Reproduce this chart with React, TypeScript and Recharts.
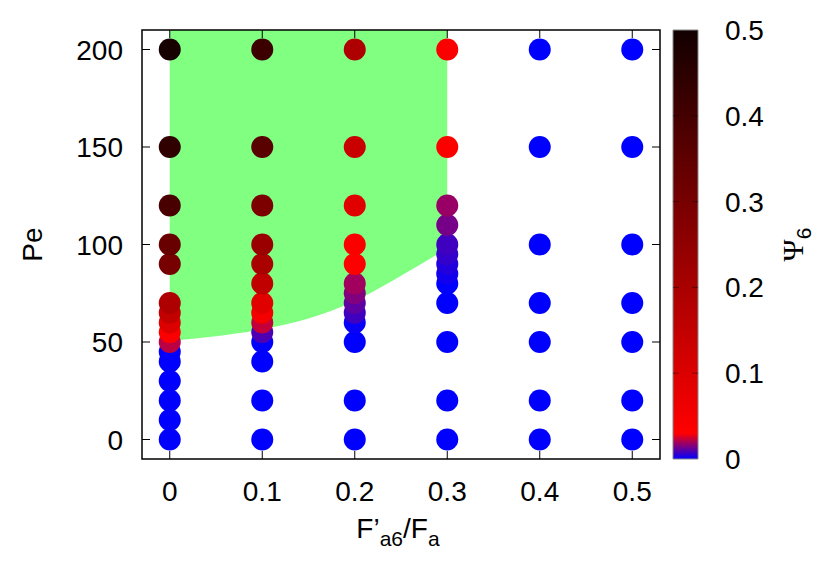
import React from "react";
import { ComposedChart, Area, Scatter, XAxis, YAxis, ReferenceArea } from "recharts";

// F'a6/Fa columns and the (Pe, Psi6) values measured in each one
const fRatio = [0, 0.1, 0.2, 0.3, 0.4, 0.5];

const pe0 = [0, 10, 20, 30, 40, 45, 50, 55, 60, 65, 70, 90, 100, 120, 150, 200];
const psi0 = [0, 0, 0, 0, 0, 0, 0.022, 0.04, 0.1, 0.15, 0.19, 0.3, 0.33, 0.39, 0.44, 0.49];

const pe1 = [0, 20, 40, 50, 55, 60, 65, 70, 80, 90, 100, 120, 150, 200];
const psi1 = [0, 0, 0, 0, 0.009, 0.023, 0.05, 0.09, 0.155, 0.2, 0.23, 0.29, 0.36, 0.415];

const pe2 = [0, 20, 50, 60, 65, 70, 75, 80, 90, 100, 120, 150, 200];
const psi2 = [0, 0, 0, 0.001, 0.0075, 0.011, 0.015, 0.019, 0.032, 0.035, 0.09, 0.14, 0.19];

const pe3 = [0, 20, 50, 70, 80, 85, 90, 95, 100, 110, 120, 150, 200];
const psi3 = [0, 0, 0, 0, 0, 0.002, 0.004, 0.006, 0.0075, 0.014, 0.018, 0.035, 0.04];

const pe4 = [0, 20, 50, 70, 100, 150, 200];
const psi4 = [0, 0, 0, 0, 0, 0, 0];

const pe5 = [0, 20, 50, 70, 100, 150, 200];
const psi5 = [0, 0, 0, 0, 0, 0, 0];

// lower edge of the shaded (green) region
const boundaryF = [0, 0.05, 0.1, 0.15, 0.2, 0.25, 0.3];
const boundaryPe = [50.5, 53, 56.5, 62, 71, 84, 98];
const peTop = 210;

const xTicks = [0, 0.1, 0.2, 0.3, 0.4, 0.5];
const yTicks = [0, 50, 100, 150, 200];
const cbTicks = [0, 0.1, 0.2, 0.3, 0.4, 0.5];
const cbRange = [0, 0.5];

const FONT = "'Liberation Sans', Arial, Helvetica, sans-serif";
const FS = 28;
const SUB = 21;

// plot frame (main chart)
const PL = 142;
const PR = 660;
const PT = 30;
const PB = 459;

// blue -> red over the first 0.03, then red -> black up to 0.5
function psiColor(t: number): string {
  let r: number;
  let b: number;
  if (t <= 0.03) {
    const f = Math.max(0, t) / 0.03;
    r = 255 * f;
    b = 255 * (1 - f);
  } else {
    const f = Math.min(1, (t - 0.03) / 0.47);
    r = 255 - 237 * f;
    b = 0;
  }
  return `rgb(${Math.round(r)},0,${Math.round(b)})`;
}

const columns = [
  { pe: pe0, psi: psi0 },
  { pe: pe1, psi: psi1 },
  { pe: pe2, psi: psi2 },
  { pe: pe3, psi: psi3 },
  { pe: pe4, psi: psi4 },
  { pe: pe5, psi: psi5 },
];

const points = columns.flatMap((c, i) =>
  c.pe.map((pe, j) => ({ x: fRatio[i], y: pe, psi: c.psi[j] }))
);

const greenData = boundaryF.map((f, i) => ({ x: f, band: [boundaryPe[i], peTop] }));

const cbData = cbRange.map((v, i) => ({ x: i, v }));

const gradStops = Array.from({ length: 51 }, (_, i) => i / 100);

function Dot(props: any) {
  const { cx, cy } = props;
  const psi = props.payload?.psi ?? props.psi ?? 0;
  if (cx == null || cy == null) return null;
  return <circle cx={cx} cy={cy} r={11} fill={psiColor(psi)} />;
}

function YTick(props: any) {
  const { y, payload } = props;
  return (
    <g>
      <line x1={PL} x2={PL + 8} y1={y} y2={y} stroke="#000" strokeWidth={1} />
      <line x1={PR - 8} x2={PR} y1={y} y2={y} stroke="#000" strokeWidth={1} />
      <text x={123} y={y} dy="0.36em" textAnchor="end" fontSize={FS} fontFamily={FONT} fill="#000">
        {payload.value}
      </text>
    </g>
  );
}

function XTick(props: any) {
  const { x, payload } = props;
  return (
    <g>
      <line x1={x} x2={x} y1={PB - 8} y2={PB} stroke="#000" strokeWidth={1} />
      <line x1={x} x2={x} y1={PT} y2={PT + 8} stroke="#000" strokeWidth={1} />
      <text x={x} y={501} textAnchor="middle" fontSize={FS} fontFamily={FONT} fill="#000">
        {payload.value}
      </text>
    </g>
  );
}

function CbTick(props: any) {
  const { y, payload } = props;
  const inner = payload.value > 0 && payload.value < 0.5;
  return (
    <g>
      {inner && (
        <>
          <line x1={13} x2={19} y1={y} y2={y} stroke="rgba(0,0,0,0.45)" strokeWidth={1} />
          <line x1={32} x2={38} y1={y} y2={y} stroke="rgba(0,0,0,0.45)" strokeWidth={1} />
        </>
      )}
      <text x={65} y={y} dy="0.36em" textAnchor="start" fontSize={FS} fontFamily={FONT} fill="#000">
        {payload.value}
      </text>
    </g>
  );
}

function XTitle(props: any) {
  const vb = props.viewBox || { x: PL, width: PR - PL };
  const cx = vb.x + vb.width / 2 - 3;
  return (
    <text x={cx} y={538} textAnchor="middle" fontSize={FS} fontFamily={FONT} fill="#000">
      F’<tspan fontSize={SUB} dy={8}>a6</tspan>
      <tspan dy={-8}>/F</tspan>
      <tspan fontSize={SUB} dy={8}>a</tspan>
    </text>
  );
}

function YTitle(props: any) {
  const vb = props.viewBox || { y: PT, height: PB - PT };
  const cy = vb.y + vb.height / 2;
  return (
    <text
      x={42}
      y={cy}
      transform={`rotate(-90 42 ${cy})`}
      textAnchor="middle"
      fontSize={FS}
      fontFamily={FONT}
      fill="#000"
    >
      Pe
    </text>
  );
}

function PsiTitle(props: any) {
  const vb = props.viewBox || { y: PT, height: PB - PT };
  const cy = vb.y + vb.height / 2;
  const x = 143;
  return (
    <text
      x={x}
      y={cy}
      transform={`rotate(-90 ${x} ${cy})`}
      textAnchor="middle"
      fontSize={30}
      fontFamily="'Liberation Serif', 'DejaVu Serif', serif"
      fill="#000"
    >
      Ψ<tspan fontSize={SUB} dy={8} fontFamily={FONT}>6</tspan>
    </text>
  );
}

export default function App() {
  return (
    <div style={{ position: "absolute", left: 0, top: 0, width: 830, height: 581, background: "#fff" }}>
      <div style={{ position: "absolute", left: 0, top: 0 }}>
        <ComposedChart
          width={830}
          height={581}
          data={greenData}
          margin={{ top: PT, right: 830 - PR, bottom: 0, left: 0 }}
        >
          <XAxis
            dataKey="x"
            type="number"
            domain={[-0.03, 0.53]}
            ticks={xTicks}
            allowDataOverflow
            height={581 - PB}
            axisLine={false}
            tickLine={false}
            tick={(p: any) => <XTick {...p} />}
            label={{ content: (p: any) => <XTitle {...p} /> }}
          />
          <YAxis
            dataKey="y"
            type="number"
            domain={[-10, 210]}
            ticks={yTicks}
            allowDataOverflow
            width={PL}
            axisLine={false}
            tickLine={false}
            tick={(p: any) => <YTick {...p} />}
            label={{ content: (p: any) => <YTitle {...p} /> }}
          />
          <Area
            type="monotone"
            dataKey="band"
            stroke="none"
            fill="#80ff80"
            fillOpacity={1}
            isAnimationActive={false}
            dot={false}
            activeDot={false}
          />
          <Scatter data={points} shape={(p: any) => <Dot {...p} />} isAnimationActive={false} />
          <ReferenceArea
            x1={-0.03}
            x2={0.53}
            y1={-10}
            y2={210}
            fill="none"
            fillOpacity={0}
            stroke="#000"
            strokeWidth={1.5}
            ifOverflow="visible"
          />
        </ComposedChart>
      </div>
      <div style={{ position: "absolute", left: PR, top: 0 }}>
        <ComposedChart
          width={170}
          height={581}
          data={cbData}
          margin={{ top: PT, right: 0, bottom: 581 - PB, left: 13 }}
        >
          <defs>
            <linearGradient id="psiGrad" x1="0" y1="1" x2="0" y2="0">
              {gradStops.map((v) => (
                <stop key={v} offset={`${(v / 0.5) * 100}%`} stopColor={psiColor(v)} />
              ))}
            </linearGradient>
          </defs>
          <XAxis type="number" dataKey="x" domain={[0, 1]} hide />
          <YAxis
            orientation="right"
            dataKey="v"
            type="number"
            domain={[0, 0.5]}
            ticks={cbTicks}
            width={132}
            axisLine={false}
            tickLine={false}
            tick={(p: any) => <CbTick {...p} />}
            label={{ content: (p: any) => <PsiTitle {...p} /> }}
          />
          <ReferenceArea
            x1={0}
            x2={1}
            y1={0}
            y2={0.5}
            fill="url(#psiGrad)"
            fillOpacity={1}
            stroke="#888"
            strokeWidth={1}
            ifOverflow="visible"
          />
        </ComposedChart>
      </div>
    </div>
  );
}
